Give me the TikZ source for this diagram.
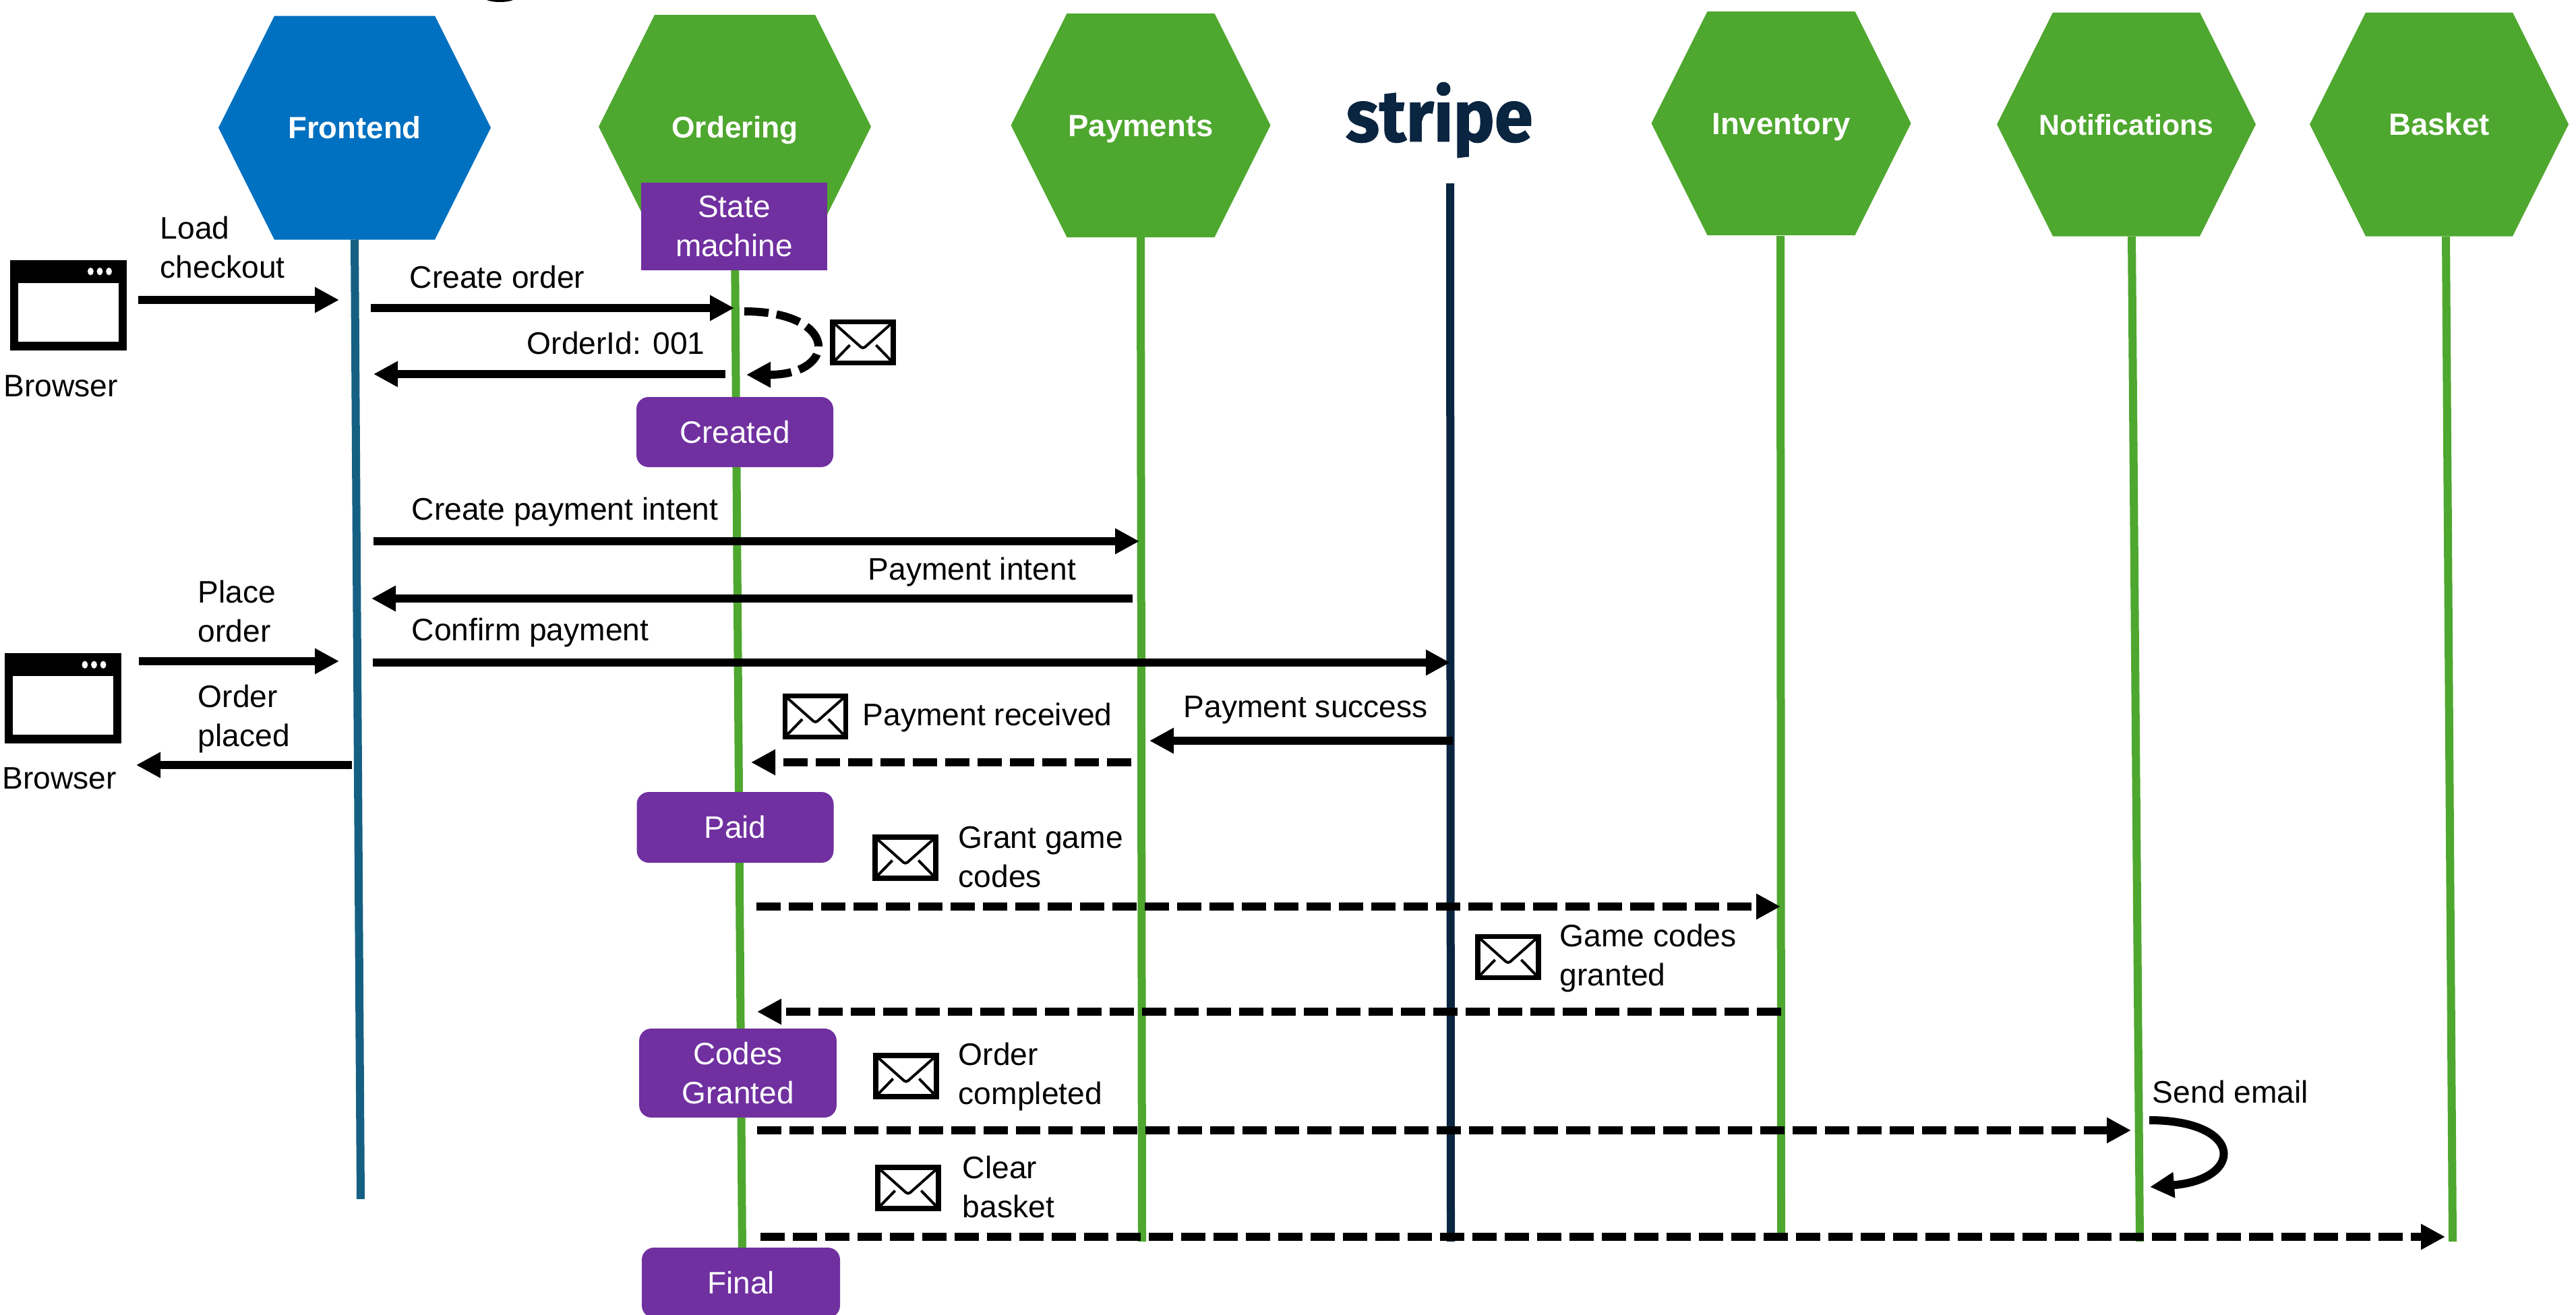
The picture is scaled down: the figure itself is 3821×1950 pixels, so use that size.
\documentclass[tikz,border=0pt]{standalone}
\usepackage{fontspec}
\setmainfont{Liberation Sans}
\newfontfamily\logofont[FakeStretch=0.95,FakeBold=1.2]{Fira Sans}
\usetikzlibrary{shapes.symbols}
\usetikzlibrary{arrows.meta}
\definecolor{frontendblue}{HTML}{0070C0}
\definecolor{frontendline}{HTML}{156082}
\definecolor{servicegreen}{HTML}{4EA72E}
\definecolor{statepurple}{HTML}{7030A0}
\definecolor{stripenavy}{HTML}{0A2540}
\tikzset{
	service/.style={shape=signal,signal to=east and west,signal pointer angle=126.87,fill=servicegreen,
		text=white,font=\fontsize{11.4}{13}\selectfont\bfseries,minimum height=83pt,inner sep=0pt,outer sep=0pt,
		text height=8pt,text depth=0pt},
	lifeline/.style={line width=3pt,servicegreen},
	statebox/.style={fill=statepurple,text=white,rounded corners=4.5pt,align=center,inner sep=0pt,outer sep=0pt,
		font=\fontsize{11.5}{14.5}\selectfont},
	msg/.style={line width=3pt,-{Triangle[length=9pt,width=9pt]}},
	mailmsg/.style={msg,dash pattern=on 9pt off 3pt},
	label/.style={font=\fontsize{11.55}{14.5}\selectfont,align=left,anchor=west,inner sep=0pt},
	mailbox/.style={draw,line width=1.9pt,fill=white,minimum width=22.5pt,minimum height=15.2pt,inner sep=0pt,outer sep=0pt,
		path picture={
			\draw[line width=1pt,rounded corners=1pt] (path picture bounding box.north west) -- ++(11.25pt,-10pt) -- (path picture bounding box.north east);
			\draw[line width=1pt] (path picture bounding box.south west) -- ++(6.4pt,6.6pt);
			\draw[line width=1pt] (path picture bounding box.south east) -- ++(-6.4pt,6.6pt);
		}},
	browser/.style={fill=black,minimum width=43.25pt,minimum height=33.5pt,inner sep=0pt,outer sep=0pt,
		path picture={
			\fill[white] ([shift={(3pt,3.2pt)}]path picture bounding box.south west) rectangle ([shift={(-3pt,-8.6pt)}]path picture bounding box.north east);
			\foreach \d in {6.6,10,13.4}
				\fill[white] ([shift={(-\d pt,-4.3pt)}]path picture bounding box.north east) ellipse (1.1pt and 1.4pt);
		}},
}
\begin{document}
\begin{tikzpicture}[x=.25pt,y=-.25pt]
	\useasboundingbox (0,0) rectangle (3821,1950);
	\fill (722,0) .. controls (730,4) and (753,4) .. (761,0) -- cycle;
	% services
	\node [service,fill=frontendblue,minimum width=101pt] (frontend) at (526,189.5) {Frontend};
	\node [service,minimum width=101pt,font=\fontsize{11.1}{13}\selectfont\bfseries] (ordering) at (1090,188) {Ordering};
	\node [service,minimum width=96.25pt] (payments) at (1692,186) {Payments};
	\node [service,minimum width=96.25pt] (inventory) at (2642,183) {Inventory};
	\node [service,minimum width=96pt,font=\fontsize{10.7}{13}\selectfont\bfseries] (notifications) at (3154,184.5) {\makebox[0pt]{Notifications}};
	\node [service,minimum width=96pt] (basket) at (3618,184.5) {Basket};
	\node [text=stripenavy,inner sep=0pt] (stripe) at (2135,178) {\logofont\fontsize{27}{27}\selectfont\bfseries stripe};
	% free ends of the lines
	\foreach \n/\x/\y in {frontendend/535/1779,orderingend/1101/1860,paymentsend/1694/1842,
		stripetop/2151/272,stripeend/2152/1842,inventorytop/2641/350,inventoryend/2642/1835,
		notifytop/3162/351,notifyend/3174/1842,baskettop/3628/351,basketend/3638/1842}
		\coordinate (\n) at (\x,\y);
	% lifelines
	\draw [lifeline,frontendline] (frontend.south) -- (frontendend);
	\draw [lifeline] (ordering.south) -- (orderingend);
	\draw [lifeline] (payments.south) -- (paymentsend);
	\draw [lifeline,stripenavy] (stripetop) -- (stripeend);
	\draw [lifeline] (inventorytop) -- (inventoryend);
	\draw [lifeline] (notifytop) -- (notifyend);
	\draw [lifeline] (baskettop) -- (basketend);
	% states
	\node [statebox,rounded corners=0pt,minimum width=69pt,minimum height=32.5pt] (statemachine) at (1089,336) {State\\machine};
	\node [statebox,minimum width=73pt,minimum height=26pt] (created) at (1090,641) {Created};
	\node [statebox,minimum width=73pt,minimum height=26.25pt] (paid) at (1090.5,1227.5) {Paid};
	\node [statebox,minimum width=73.2pt,minimum height=33pt] (granted) at (1094.5,1592) {Codes\\Granted};
	\node [statebox,minimum width=73.5pt,minimum height=26pt] (final) at (1099,1903) {Final};
	% browsers
	\node [browser] (browsertop) at (101.5,452.5) {};
	\node [browser] (browserlow) at (93,1036) {};
	\node [label,anchor=center] (browsertoptext) at (90,573) {Browser};
	\node [label,anchor=center] (browserlowtext) at (88,1155) {Browser};
	% mail icons
	\foreach \n/\x/\y in {mailcreated/1280/508,mailreceived/1209.5/1063,mailgrant/1343/1272.5,mailgranted/2237/1420,mailcompleted/1344/1596.5,mailclear/1347/1762.5}
		\node [mailbox] (\n) at (\x,\y) {};
	% message ends
	\foreach \n/\x/\y in {loada/205/445,loadb/503/445,createa/550/457,createb/1089/457,
		ida/1076/555,idb/554/555,loopa/1104/462,loopb/1107/556,
		intenta/554/803,intentb/1690/803,backa/1680/888,backb/551/888,
		placea/206/981,placeb/503/981,confirma/553/983,confirmb/2151/983,
		donea/522/1135,doneb/202/1135,successa/2155/1099,successb/1705/1099,
		receiveda/1678/1131,receivedb/1114/1131,granta/1122/1345,grantb/2641/1345,
		grantedna/2642/1501,grantednb/1123/1501,completeda/1123/1677,completedb/3161/1677,
		cleara/1128/1835,clearb/3627/1835,emaila/3188/1662,emailb/3189/1761}
		\coordinate (\n) at (\x,\y);
	% messages
	\foreach \a/\b in {loada/loadb,createa/createb,ida/idb,intenta/intentb,backa/backb,placea/placeb,confirma/confirmb,donea/doneb,successa/successb}
		\draw [msg] (\a) -- (\b);
	\foreach \a/\b in {receiveda/receivedb,granta/grantb,grantedna/grantednb,completeda/completedb,cleara/clearb}
		\draw [mailmsg] (\a) -- (\b);
	\draw [mailmsg] (loopa) .. controls (1244,462) and (1244,556) .. (loopb);
	\draw [msg] (emaila) .. controls (3329,1662) and (3329,1750) .. (emailb);
	% labels
	\node [label] (loadtext) at (237,367) {Load\\checkout};
	\node [label] (createtext) at (607,411) {Create order};
	\node [label] (idtext) at (781,509) {OrderId: 001};
	\node [label] (intenttext) at (610,760) {Create payment intent};
	\node [label] (backtext) at (1287,849) {Payment intent};
	\node [label] (placetext) at (293,907) {Place\\order};
	\node [label] (confirmtext) at (610,939) {Confirm payment};
	\node [label] (donetext) at (293,1067) {Order\\placed};
	\node [label] (receivedtext) at (1279,1065) {Payment received};
	\node [label] (successtext) at (1755,1053) {Payment success};
	\node [label] (granttext) at (1421,1272) {Grant game\\codes};
	\node [label] (grantedtext) at (2313,1422) {Game codes\\granted};
	\node [label] (completedtext) at (1421,1598) {Order\\completed};
	\node [label] (emailtext) at (3192,1620) {Send email};
	\node [label] (cleartext) at (1427,1761) {Clear\\basket};
\end{tikzpicture}
\end{document}
